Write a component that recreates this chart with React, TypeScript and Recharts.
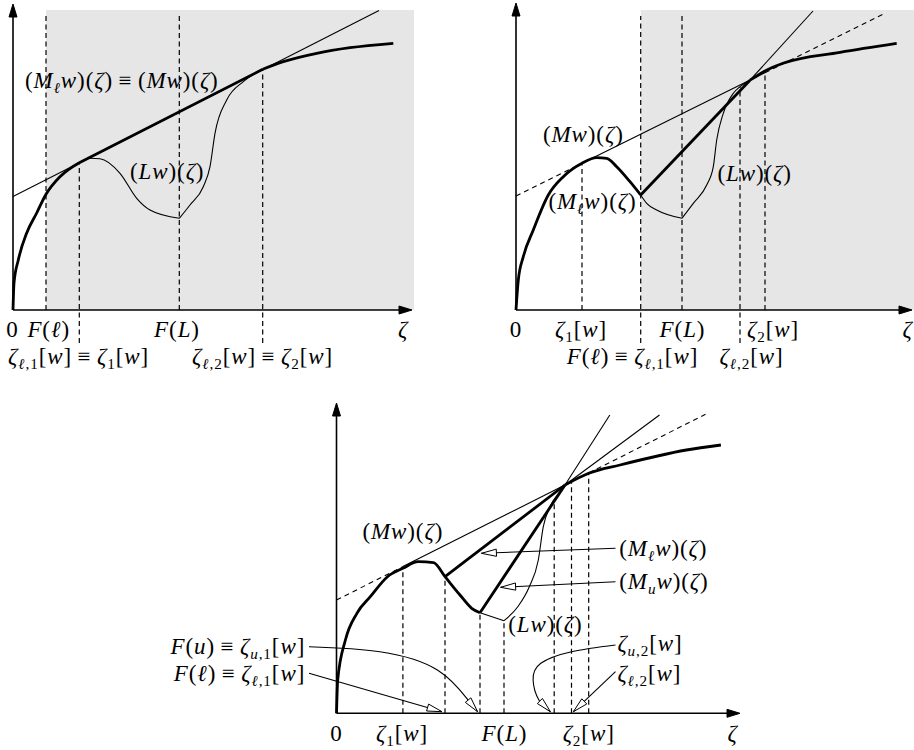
import React from 'react';
import { LineChart, Line, XAxis, YAxis, ReferenceLine, ReferenceArea, ReferenceDot } from 'recharts';

type Pt = { x: number; y: number };
type Guide = { x: number; from: number; to: number };
type Tick = { x: number; label: string };
type Note = { x: number; y: number; text: string; anchor?: 'start' | 'middle' | 'end' };

// units: one unit = one screen pixel, measured from each panel's origin

// ---------- panel 1 (top left) ----------
const p1WRise: Pt[] = [
  { x: 0, y: 0 }, { x: 1, y: 27 }, { x: 5.3, y: 50 }, { x: 13.7, y: 77 }, { x: 23.7, y: 97 },
  { x: 33, y: 115.7 }, { x: 47, y: 133.3 }, { x: 66.3, y: 147.3 },
];
const p1MlChord: Pt[] = [{ x: 66.3, y: 147.3 }, { x: 249.7, y: 240.7 }];
const p1WTail: Pt[] = [
  { x: 249.7, y: 240.7 }, { x: 270.3, y: 248.3 }, { x: 303.7, y: 256.7 }, { x: 337, y: 262.3 }, { x: 380.3, y: 266.7 },
];
const p1MwLine: Pt[] = [{ x: 0, y: 113.5 }, { x: 366, y: 299.5 }];
const p1LwDip: Pt[] = [
  { x: 66.3, y: 147.3 }, { x: 77, y: 151.7 }, { x: 87, y: 151.3 }, { x: 107, y: 136.7 },
  { x: 123.7, y: 111.7 }, { x: 137, y: 100 }, { x: 166.3, y: 91.7 },
];
const p1LwClimb: Pt[] = [
  { x: 166.3, y: 91.7 }, { x: 177, y: 105 }, { x: 190.3, y: 123.3 }, { x: 197, y: 143.3 }, { x: 202, y: 176.7 },
  { x: 213.7, y: 210 }, { x: 230.3, y: 228.3 }, { x: 249.7, y: 240.7 },
];
const p1Guides: Guide[] = [
  { x: 33, from: 0, to: 295 }, { x: 66.3, from: -33, to: 147.3 },
  { x: 166.3, from: 0, to: 295 }, { x: 249.7, from: -33, to: 240.7 },
];
const p1Ticks: Tick[] = [
  { x: -0.5, label: '0' }, { x: 35.7, label: 'F(ℓ)' }, { x: 164, label: 'F(L)' }, { x: 390, label: 'ζ' },
];
const p1Ticks2: Tick[] = [
  { x: 65.5, label: 'ζ_{ℓ,1}[w]≡ζ_{1}[w]' }, { x: 249.5, label: 'ζ_{ℓ,2}[w]≡ζ_{2}[w]' },
];
const p1Notes: Note[] = [
  { x: 12, y: 229, text: '(M_{ℓ}w)(ζ)≡(Mw)(ζ)', anchor: 'start' },
  { x: 117, y: 138, text: '(Lw)(ζ)', anchor: 'start' },
];

// ---------- panel 2 (top right) ----------
const p2WRise: Pt[] = [
  { x: 0, y: 0 }, { x: 2.3, y: 30 }, { x: 7.3, y: 53.3 }, { x: 17.3, y: 80 }, { x: 32.3, y: 115 },
  { x: 47.3, y: 133.3 }, { x: 66, y: 146.7 }, { x: 80.7, y: 152.3 }, { x: 90.7, y: 151.7 },
  { x: 100.7, y: 143.3 }, { x: 114, y: 128.3 }, { x: 124.7, y: 115 },
];
const p2MlChord: Pt[] = [{ x: 124.7, y: 115 }, { x: 234, y: 229.8 }];
const p2MlExtend: Pt[] = [{ x: 234, y: 229.8 }, { x: 297, y: 299 }];
const p2WTail: Pt[] = [
  { x: 234, y: 229.8 }, { x: 249, y: 239 }, { x: 267, y: 246.7 }, { x: 324, y: 257.7 }, { x: 380.7, y: 266.7 },
];
const p2MwLeft: Pt[] = [{ x: 0, y: 114 }, { x: 66, y: 146.7 }];
const p2MwMid: Pt[] = [{ x: 66, y: 146.7 }, { x: 249, y: 237.3 }];
const p2MwRight: Pt[] = [{ x: 249, y: 237.3 }, { x: 367, y: 295.7 }];
const p2LwDip: Pt[] = [{ x: 124.7, y: 115 }, { x: 130.7, y: 106.7 }, { x: 140.7, y: 100 }, { x: 166, y: 91.7 }];
const p2LwClimb: Pt[] = [
  { x: 166, y: 91.7 }, { x: 177.3, y: 106.7 }, { x: 190.7, y: 125 }, { x: 197.3, y: 143.3 }, { x: 200.7, y: 170 },
  { x: 207.3, y: 196.7 }, { x: 217.3, y: 216.7 }, { x: 224, y: 223.3 }, { x: 234, y: 229.8 },
];
const p2Guides: Guide[] = [
  { x: 66, from: 0, to: 146.7 }, { x: 124.7, from: -33, to: 294 }, { x: 166, from: 0, to: 294 },
  { x: 224, from: -33, to: 223 }, { x: 249, from: 0, to: 239 },
];
const p2Ticks: Tick[] = [
  { x: 0, label: '0' }, { x: 65, label: 'ζ_{1}[w]' }, { x: 166.5, label: 'F(L)' },
  { x: 257, label: 'ζ_{2}[w]' }, { x: 391.5, label: 'ζ' },
];
const p2Ticks2: Tick[] = [
  { x: 116.5, label: 'F(ℓ)≡ζ_{ℓ,1}[w]' }, { x: 235.5, label: 'ζ_{ℓ,2}[w]' },
];
const p2Notes: Note[] = [
  { x: 67.3, y: 175, text: '(Mw)(ζ)' },
  { x: 76.5, y: 108.3, text: '(M_{ℓ}w)(ζ)' },
  { x: 238.7, y: 136.7, text: '(Lw)(ζ)' },
];

// ---------- panel 3 (bottom) ----------
const p3W: Pt[] = [
  { x: 0, y: 0 }, { x: 1.2, y: 33.3 }, { x: 8.9, y: 73.3 }, { x: 20.4, y: 100 }, { x: 33.8, y: 116.6 },
  { x: 51, y: 136.6 }, { x: 66.4, y: 145 }, { x: 81.7, y: 151.6 }, { x: 97, y: 150.6 }, { x: 108.5, y: 136.6 },
  { x: 123.5, y: 118.3 }, { x: 135.2, y: 105 }, { x: 143.5, y: 100.6 },
];
const p3MlChord: Pt[] = [{ x: 108.5, y: 136.6 }, { x: 228.5, y: 228.3 }];
const p3MlExtend: Pt[] = [{ x: 228.5, y: 228.3 }, { x: 323, y: 298.3 }];
const p3MuChord: Pt[] = [{ x: 143.5, y: 100.6 }, { x: 228.5, y: 228.3 }];
const p3MuExtend: Pt[] = [{ x: 228.5, y: 228.3 }, { x: 273.3, y: 298.3 }];
const p3WTail: Pt[] = [
  { x: 228.5, y: 228.3 }, { x: 252.2, y: 240 }, { x: 283.5, y: 248.3 }, { x: 349.9, y: 263.3 }, { x: 384.4, y: 268.3 },
];
const p3MwLeft: Pt[] = [{ x: 0, y: 113.3 }, { x: 66.4, y: 146.7 }];
const p3MwMid: Pt[] = [{ x: 66.4, y: 146.7 }, { x: 252.2, y: 240.2 }];
const p3MwRight: Pt[] = [{ x: 252.2, y: 240.2 }, { x: 369, y: 299 }];
const p3LwDip: Pt[] = [{ x: 143.5, y: 100.6 }, { x: 167.5, y: 92.6 }];
const p3LwClimb: Pt[] = [
  { x: 167.5, y: 92.6 }, { x: 181.3, y: 106.6 }, { x: 192.8, y: 126.6 }, { x: 201.8, y: 153.3 },
  { x: 206.8, y: 186.6 }, { x: 213.5, y: 206.6 }, { x: 223.5, y: 221.6 }, { x: 228.5, y: 228.3 },
];
const p3Guides: Guide[] = [
  { x: 66.4, from: 0, to: 145 }, { x: 108.5, from: 0, to: 136.6 }, { x: 143.5, from: 0, to: 100.6 },
  { x: 167.5, from: 0, to: 92.6 }, { x: 217.7, from: 0, to: 212 }, { x: 235, from: 0, to: 231 },
  { x: 252.2, from: 0, to: 240 },
];
const p3Ticks: Tick[] = [
  { x: 0, label: '0' }, { x: 65.5, label: 'ζ_{1}[w]' }, { x: 168, label: 'F(L)' },
  { x: 252.2, label: 'ζ_{2}[w]' }, { x: 396, label: 'ζ' },
];
const p3Notes: Note[] = [
  { x: 66.3, y: 181.6, text: '(Mw)(ζ)' },
  { x: 282.8, y: 165, text: '(M_{ℓ}w)(ζ)', anchor: 'start' },
  { x: 282.8, y: 131.6, text: '(M_{u}w)(ζ)', anchor: 'start' },
  { x: 171.7, y: 88.3, text: '(Lw)(ζ)', anchor: 'start' },
  { x: -31.3, y: 66.6, text: 'F(u)≡ζ_{u,1}[w]', anchor: 'end' },
  { x: -31.3, y: 40, text: 'F(ℓ)≡ζ_{ℓ,1}[w]', anchor: 'end' },
  { x: 280.9, y: 70, text: 'ζ_{u,2}[w]', anchor: 'start' },
  { x: 280.9, y: 40, text: 'ζ_{ℓ,2}[w]', anchor: 'start' },
];
const p3Pointers: Pt[][] = [
  [{ x: 279, y: 165 }, { x: 144.9, y: 160 }],
  [{ x: 279, y: 131.6 }, { x: 164.1, y: 126 }],
  [{ x: -27.5, y: 66.6 }, { x: 43.4, y: 61.6 }, { x: 100.9, y: 43.3 }, { x: 131.5, y: 13.3 }, { x: 141.1, y: 1.6 }],
  [{ x: -27.5, y: 40 }, { x: 105.5, y: 1.6 }],
  [{ x: 279, y: 68.3 }, { x: 235, y: 61.6 }, { x: 204.3, y: 50 }, { x: 196.6, y: 33.3 }, { x: 202.4, y: 13.3 }, { x: 213.9, y: 1.6 }],
  [{ x: 279, y: 41.6 }, { x: 236.9, y: 1.6 }],
];

const FONT = '"Liberation Serif", "DejaVu Serif", serif';
const SIZE = 23;
const LETTERS = /[A-Za-zζℓ]/;

function mathRuns(src: string) {
  const segs: { t: string; sub: boolean }[] = [];
  const re = /_\{([^}]*)\}/g;
  let last = 0;
  let m: RegExpExecArray | null;
  while ((m = re.exec(src))) {
    if (m.index > last) segs.push({ t: src.slice(last, m.index), sub: false });
    segs.push({ t: m[1], sub: true });
    last = re.lastIndex;
  }
  if (last < src.length) segs.push({ t: src.slice(last), sub: false });
  const runs: { t: string; sub: boolean; it: boolean }[] = [];
  segs.forEach((s) => {
    (s.t.match(/[A-Za-zζℓ]+|[^A-Za-zζℓ]+/g) || []).forEach((p) =>
      runs.push({ t: p.replace(/≡/g, '\u2009≡\u2009'), sub: s.sub, it: LETTERS.test(p[0]) })
    );
  });
  return runs;
}

function MathText({ cx, cy, text, anchor = 'middle' }: { cx: number; cy: number; text: string; anchor?: string }) {
  let shift = 0;
  return (
    <text
      x={cx}
      y={cy + SIZE * 0.32}
      textAnchor={anchor}
      fontFamily={FONT}
      fontSize={SIZE}
      letterSpacing={0.9}
      fill="#000"
    >
      {mathRuns(text).map((r, i) => {
        const target = r.sub ? 5 : 0;
        const dy = target - shift;
        shift = target;
        return (
          <tspan key={i} dy={dy || undefined} fontStyle={r.it ? 'italic' : 'normal'} fontSize={r.sub ? SIZE * 0.66 : SIZE}>
            {r.t}
          </tspan>
        );
      })}
    </text>
  );
}

function Head({ cx, cy, angle, open }: { cx: number; cy: number; angle: number; open?: boolean }) {
  const len = open ? 15 : 13;
  const half = open ? 3.6 : 4;
  const c = Math.cos(angle);
  const s = Math.sin(angle);
  const bx = cx - len * c;
  const by = cy - len * s;
  const pts = [
    [cx, cy],
    [bx - s * half, by + c * half],
    [bx + s * half, by - c * half],
  ]
    .map((p) => p.join(','))
    .join(' ');
  return <polygon points={pts} fill={open ? '#fff' : '#000'} stroke="#000" strokeWidth={1} strokeLinejoin="miter" />;
}

const curve = (key: string, data: Pt[], width: number, dashed = false, type: any = 'monotone') => (
  <Line
    key={key}
    data={data}
    dataKey="y"
    type={type}
    stroke="#000"
    strokeWidth={width}
    strokeDasharray={dashed ? '5 4' : undefined}
    dot={false}
    activeDot={false}
    isAnimationActive={false}
  />
);

const guides = (list: Guide[]) =>
  list.map((g, i) => (
    <ReferenceLine
      key={'g' + i}
      segment={[{ x: g.x, y: g.from }, { x: g.x, y: g.to }]}
      stroke="#000"
      strokeWidth={1.2}
      strokeDasharray="5 3.5"
      ifOverflow="visible"
    />
  ));

const axes = (xEnd: number, yEnd: number) => [
  <ReferenceLine key="ax" segment={[{ x: 0, y: 0 }, { x: xEnd - 6, y: 0 }]} stroke="#000" strokeWidth={1.6} ifOverflow="visible" />,
  <ReferenceLine key="ay" segment={[{ x: 0, y: 0 }, { x: 0, y: yEnd - 6 }]} stroke="#000" strokeWidth={1.6} ifOverflow="visible" />,
  <ReferenceDot key="hx" x={xEnd} y={0} ifOverflow="visible" shape={(p: any) => <Head cx={p.cx} cy={p.cy} angle={0} />} />,
  <ReferenceDot key="hy" x={0} y={yEnd} ifOverflow="visible" shape={(p: any) => <Head cx={p.cx} cy={p.cy} angle={-Math.PI / 2} />} />,
];

const ticks = (list: Tick[], y: number, prefix: string) =>
  list.map((t, i) => (
    <ReferenceDot
      key={prefix + i}
      x={t.x}
      y={y}
      ifOverflow="visible"
      shape={(p: any) => <MathText cx={p.cx} cy={p.cy} text={t.label} />}
    />
  ));

const notes = (list: Note[]) =>
  list.map((n, i) => (
    <ReferenceDot
      key={'n' + i}
      x={n.x}
      y={n.y}
      ifOverflow="visible"
      shape={(p: any) => <MathText cx={p.cx} cy={p.cy} text={n.text} anchor={n.anchor} />}
    />
  ));

const pointers = (list: Pt[][]) =>
  list.flatMap((pts, i) => {
    const a = pts[pts.length - 2];
    const b = pts[pts.length - 1];
    const angle = Math.atan2(-(b.y - a.y), b.x - a.x);
    return [
      curve('pl' + i, pts, 1.1, false, pts.length > 2 ? 'natural' : 'linear'),
      <ReferenceDot
        key={'ph' + i}
        x={b.x}
        y={b.y}
        ifOverflow="visible"
        shape={(p: any) => <Head cx={p.cx} cy={p.cy} angle={angle} open />}
      />,
    ];
  });

function Panel({ left, top, width, height, xDomain, yDomain, children }: any) {
  return (
    <div style={{ position: 'absolute', left, top }}>
      <LineChart width={width} height={height} margin={{ top: 0, right: 0, bottom: 0, left: 0 }}>
        <XAxis type="number" dataKey="x" domain={xDomain} allowDataOverflow hide />
        <YAxis type="number" domain={yDomain} allowDataOverflow hide />
        {children}
      </LineChart>
    </div>
  );
}

export default function App() {
  return (
    <div style={{ position: 'absolute', left: 0, top: 0, width: 914, height: 750, background: '#fff' }}>
      <Panel left={0} top={0} width={420} height={380} xDomain={[-13, 407]} yDomain={[-70, 310]}>
        <ReferenceArea x1={33} x2={401} y1={0} y2={300} fill="#e6e6e6" fillOpacity={1} stroke="none" />
        {guides(p1Guides)}
        {axes(399, 306)}
        {curve('mw', p1MwLine, 1.1, false, 'linear')}
        {curve('lw1', p1LwDip, 1.1)}
        {curve('lw2', p1LwClimb, 1.1)}
        {curve('w1', p1WRise, 2.8)}
        {curve('ml', p1MlChord, 2.8, false, 'linear')}
        {curve('w2', p1WTail, 2.8)}
        {ticks(p1Ticks, -20, 't')}
        {ticks(p1Ticks2, -47, 's')}
        {notes(p1Notes)}
      </Panel>
      <Panel left={490} top={0} width={424} height={380} xDomain={[-26, 398]} yDomain={[-70, 310]}>
        <ReferenceArea x1={124.7} x2={398} y1={0} y2={300} fill="#e6e6e6" fillOpacity={1} stroke="none" />
        {guides(p2Guides)}
        {axes(396, 307)}
        {curve('mwa', p2MwLeft, 1.1, true, 'linear')}
        {curve('mwb', p2MwMid, 1.1, false, 'linear')}
        {curve('mwc', p2MwRight, 1.1, true, 'linear')}
        {curve('mle', p2MlExtend, 1.1, false, 'linear')}
        {curve('lw1', p2LwDip, 1.1)}
        {curve('lw2', p2LwClimb, 1.1)}
        {curve('w1', p2WRise, 2.8)}
        {curve('ml', p2MlChord, 2.8, false, 'linear')}
        {curve('w2', p2WTail, 2.8)}
        {ticks(p2Ticks, -20, 't')}
        {ticks(p2Ticks2, -47, 's')}
        {notes(p2Notes)}
      </Panel>
      <Panel left={150} top={380} width={600} height={370} xDomain={[-186.5, 413.5]} yDomain={[-36.7, 333.3]}>
        {guides(p3Guides)}
        {axes(403.5, 310.3)}
        {curve('mwa', p3MwLeft, 1.1, true, 'linear')}
        {curve('mwb', p3MwMid, 1.1, false, 'linear')}
        {curve('mwc', p3MwRight, 1.1, true, 'linear')}
        {curve('mle', p3MlExtend, 1.1, false, 'linear')}
        {curve('mue', p3MuExtend, 1.1, false, 'linear')}
        {curve('lw1', p3LwDip, 1.1, false, 'linear')}
        {curve('lw2', p3LwClimb, 1.1)}
        {curve('w1', p3W, 2.8)}
        {curve('ml', p3MlChord, 2.8, false, 'linear')}
        {curve('mu', p3MuChord, 2.8, false, 'linear')}
        {curve('w2', p3WTail, 2.8)}
        {pointers(p3Pointers)}
        {ticks(p3Ticks, -20, 't')}
        {notes(p3Notes)}
      </Panel>
    </div>
  );
}
